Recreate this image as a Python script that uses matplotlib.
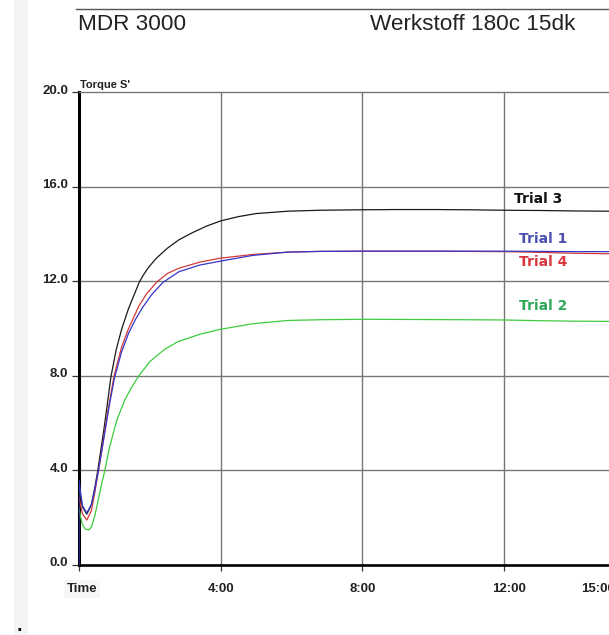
import matplotlib
matplotlib.use("Agg")
import matplotlib.pyplot as plt
from matplotlib.lines import Line2D
from matplotlib.patches import Rectangle
from matplotlib.transforms import ScaledTranslation

# ---------------- data (time in minutes, torque) ----------------
t_trial3 = [0, 0.05, 0.1, 0.22, 0.35, 0.45, 0.53, 0.62, 0.7, 0.8, 0.9, 1.05, 1.2, 1.4,
            1.55, 1.7, 1.8, 1.9, 2.0, 2.17, 2.35, 2.5, 2.82, 3.2, 3.6, 4.0, 4.5, 5.0, 5.9,
            6.8, 8, 9, 10, 11, 12, 13, 14, 15, 15.8]
y_trial3 = [3.3, 2.8, 2.45, 2.15, 2.55, 3.3, 4.0, 4.9, 5.7, 6.8, 7.95, 9.1, 9.95, 10.85,
            11.4, 11.95, 12.22, 12.45, 12.65, 12.95, 13.2, 13.4, 13.75, 14.05, 14.33, 14.55,
            14.73, 14.86, 14.96, 15.0, 15.02, 15.03, 15.03, 15.02, 15.0, 14.99, 14.97,
            14.96, 14.95]

t_trial1 = [0, 0, 0.05, 0.1, 0.22, 0.35, 0.45, 0.55, 0.65, 0.75, 0.85, 1.0, 1.2, 1.4, 1.6,
            1.8, 2.06, 2.37, 2.82, 3.4, 4.0, 4.9, 5.9, 6.8, 8, 10, 12, 13, 14, 15, 15.8]
y_trial1 = [0, 3.6, 3.0, 2.5, 2.2, 2.55, 3.2, 4.0, 4.9, 5.8, 6.7, 7.9, 9.0, 9.8, 10.4,
            10.9, 11.45, 11.95, 12.4, 12.68, 12.85, 13.09, 13.23, 13.26, 13.27, 13.27,
            13.27, 13.26, 13.25, 13.25, 13.25]

t_trial4 = [0, 0.05, 0.1, 0.22, 0.35, 0.45, 0.55, 0.65, 0.75, 0.85, 0.99, 1.2, 1.4, 1.69,
            1.9, 2.2, 2.5, 2.82, 3.4, 3.97, 4.9, 5.9, 6.8, 8, 10, 12, 13, 14, 15, 15.8]
y_trial4 = [2.85, 2.5, 2.15, 1.9, 2.3, 3.1, 4.0, 4.9, 5.9, 6.8, 8.0, 9.2, 10.0, 10.95,
            11.45, 11.97, 12.33, 12.55, 12.8, 12.97, 13.13, 13.23, 13.26, 13.27, 13.27,
            13.25, 13.22, 13.18, 13.16, 13.15]

t_trial2 = [0, 0.05, 0.1, 0.18, 0.27, 0.35, 0.45, 0.55, 0.65, 0.73, 0.85, 0.99, 1.07, 1.3,
            1.5, 1.69, 2.0, 2.4, 2.8, 3.1, 3.4, 3.97, 4.9, 5.9, 6.8, 8, 9.6, 11, 12, 13,
            14, 15, 15.8]
y_trial2 = [2.4, 2.0, 1.7, 1.52, 1.48, 1.6, 2.1, 2.8, 3.5, 4.0, 4.9, 5.7, 6.14, 7.0,
            7.55, 8.0, 8.6, 9.1, 9.45, 9.6, 9.75, 9.96, 10.2, 10.34, 10.37, 10.39, 10.38,
            10.37, 10.36, 10.33, 10.31, 10.3, 10.3]

series_names = ["Trial 3", "Trial 1", "Trial 4", "Trial 2"]

y_ticks = [0, 4, 8, 12, 16, 20]
y_tick_labels = ["0.0", "4.0", "8.0", "12.0", "16.0", "20.0"]
x_ticks = [0, 4, 8, 12, 15]
x_tick_labels = ["Time", "4:00", "8:00", "12:00", "15:00"]
x_grid = [4, 8, 12]
y_grid = [4, 8, 12, 16]

title_left = "MDR 3000"
title_right = "Werkstoff 180c 15dk"
y_label = "Torque S'"

# ---------------- figure ----------------
W, H = 609, 635
fig = plt.figure(figsize=(W / 100, H / 100), dpi=100)
fig.patch.set_facecolor("white")

# left light-gray strip and the stray dot
fig.add_artist(Rectangle((14 / W, 0), 14 / W, 1, transform=fig.transFigure,
                         facecolor="#f3f3f3", edgecolor="none", zorder=0))
fig.text(16 / W, 1 - 631 / H, ".", fontsize=11, fontweight="bold", color="black",
         ha="left", va="baseline")

# header
fig.add_artist(Line2D([76 / W, 1.0], [1 - 9 / H, 1 - 9 / H], transform=fig.transFigure,
                      color="#555555", lw=1.0))
fig.text(78 / W, 1 - 30 / H, title_left, fontsize=16.2, family="Liberation Sans",
         color="#222222", ha="left", va="baseline")
fig.text(370 / W, 1 - 30 / H, title_right, fontsize=16.2, family="Liberation Sans",
         color="#222222", ha="left", va="baseline")

px_per_min = 35.42
xmax = 15.8
ax = fig.add_axes([79 / W, 70 / H, xmax * px_per_min / W, 473 / H])
ax.set_xlim(0, xmax)
ax.set_ylim(0, 20)

for g in y_grid:
    ax.axhline(g, color="#777777", lw=1.0, zorder=1)
for g in x_grid:
    ax.axvline(g, color="#777777", lw=1.0, zorder=1)

ax.plot(t_trial3, y_trial3, color="#1a1a1a", lw=0.9, zorder=3)
ax.plot(t_trial2, y_trial2, color="#3dcc3d", lw=0.9, zorder=3)
ax.plot(t_trial4, y_trial4, color="#d43a3a", lw=0.9, zorder=3)
ax.plot(t_trial1, y_trial1, color="#3535c8", lw=0.9, zorder=4)

# series labels
lab_font = dict(fontsize=10, fontweight="bold", family="DejaVu Sans", va="center", ha="left")
ax.text(12.28, 15.47, series_names[0], color="#111111", **lab_font)
ax.text(12.42, 13.77, series_names[1], color="#4a4fb0", **lab_font)
ax.text(12.42, 12.80, series_names[2], color="#d9363e", **lab_font)
ax.text(12.42, 10.97, series_names[3], color="#2ea85a", **lab_font)

# spines
ax.spines["right"].set_visible(False)
ax.spines["top"].set_color("#777777")
ax.spines["top"].set_linewidth(1.0)
ax.spines["left"].set_color("black")
ax.spines["left"].set_linewidth(2.2)
ax.spines["bottom"].set_color("black")
ax.spines["bottom"].set_linewidth(1.9)

ax.set_yticks(y_ticks)
ax.set_yticklabels(y_tick_labels)
ax.set_xticks(x_ticks)
ax.set_xticklabels(x_tick_labels)
ax.tick_params(axis="y", direction="out", length=5, width=0.9, color="#333333", pad=3,
               labelsize=9.5)
ax.tick_params(axis="x", direction="out", length=4, width=0.9, color="#333333", pad=9,
               labelsize=9.5)
for lab in ax.get_yticklabels() + ax.get_xticklabels():
    lab.set_fontweight("bold")
    lab.set_family("Liberation Sans")
    lab.set_color("#222222")

for lab in ax.get_yticklabels():
    lab.set_transform(lab.get_transform() + ScaledTranslation(0, 3 / 100, fig.dpi_scale_trans))
xl = ax.get_xticklabels()
xl[0].set_bbox(dict(facecolor="#f6f6f6", edgecolor="none", pad=2))
xl[0].set_transform(xl[0].get_transform() + ScaledTranslation(3 / 100, 0, fig.dpi_scale_trans))
xl[3].set_transform(xl[3].get_transform() + ScaledTranslation(5 / 100, 0, fig.dpi_scale_trans))
xl[4].set_transform(xl[4].get_transform() + ScaledTranslation(-12 / 100, 0, fig.dpi_scale_trans))

ax.text(0.03, 20.08, y_label, fontsize=8, fontweight="bold", family="Liberation Sans",
        color="#222222", ha="left", va="bottom")

fig.savefig("out.png", dpi=100)
